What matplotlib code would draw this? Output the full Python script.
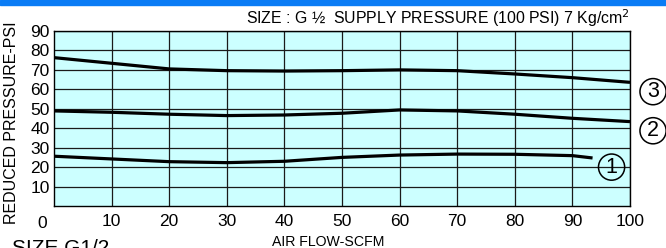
import numpy as np
import matplotlib
matplotlib.use("Agg")
import matplotlib.pyplot as plt
from matplotlib.patches import Rectangle

plt.rcParams['font.family'] = ['Liberation Sans', 'DejaVu Sans']

# air flow (SCFM) sample points
flow = [0, 10, 20, 30, 40, 50, 60, 70, 80, 90, 100]
curve3 = [76.3, 73.4, 70.5, 69.6, 69.4, 69.6, 70.0, 69.6, 67.9, 66.0, 63.6]
curve2 = [48.9, 48.2, 47.2, 46.5, 46.8, 47.7, 49.4, 48.9, 47.2, 45.1, 43.4]
flow1 = [0, 10, 20, 30, 40, 50, 60, 70, 80, 90, 93.5]
curve1 = [25.6, 24.2, 22.8, 22.3, 23.0, 25.0, 26.2, 26.7, 26.6, 25.9, 24.7]

xticks = [10, 20, 30, 40, 50, 60, 70, 80, 90, 100]
yticks = [10, 20, 30, 40, 50, 60, 70, 80, 90]

fig = plt.figure(figsize=(6.66, 2.48), dpi=100)
ax = fig.add_axes([54/666, 1 - 206/248, 576/666, 175/248])
ax.set_facecolor('#ccffff')

ax.plot(flow, curve3, color='black', lw=2.3, solid_capstyle='butt', zorder=3)
ax.plot(flow, curve2, color='black', lw=2.3, solid_capstyle='butt', zorder=3)
ax.plot(flow1, curve1, color='black', lw=2.3, solid_capstyle='butt', zorder=3)

ax.set_xlim(0, 100)
ax.set_ylim(0, 90)
ax.set_xticks(xticks)
ax.set_yticks(yticks)
ax.grid(True, color='#1a1a1a', lw=0.9, zorder=1)
ax.set_axisbelow(True)
ax.tick_params(length=0, labelsize=12.5)
ax.tick_params(axis='x', pad=6)
ax.tick_params(axis='y', pad=3)
for s in ax.spines.values():
    s.set_color('black')
    s.set_linewidth(1)
ax.text(-2, -5, '0', ha='center', va='top', fontsize=12.5, transform=ax.transData)

# circled curve numbers
circ = dict(boxstyle='circle,pad=0.12', fc='none', ec='black', lw=1.1)
ax.text(104, 58.8, '3', ha='center', va='center', fontsize=15.5, bbox=circ, clip_on=False)
ax.text(104, 38.7, '2', ha='center', va='center', fontsize=15.5, bbox=circ, clip_on=False)
ax.text(96.8, 20, '1', ha='center', va='center', fontsize=15.5, bbox=circ, clip_on=False)

fig.text(630/666, 1 - 24/248, 'SIZE : G \u00bd  SUPPLY PRESSURE (100 PSI) 7 Kg/cm$^2$',
         ha='right', va='baseline', fontsize=11.4)
fig.text(12/666, 1 - 123/248, 'REDUCED PRESSURE-PSI', rotation=90,
         ha='center', va='center', fontsize=11.5)
fig.text(328/666, 1 - 235/248, 'AIR FLOW-SCFM', ha='center', va='top', fontsize=10.2)
fig.text(12/666, 1 - 239/248, 'SIZE G1/2', ha='left', va='top', fontsize=15)

# blue band at the top
fig.patches.append(Rectangle((0, 1 - 5/248), 1, 5/248, transform=fig.transFigure,
                             color='#0a7cf5', zorder=5))

fig.savefig('out.png', dpi=100)
